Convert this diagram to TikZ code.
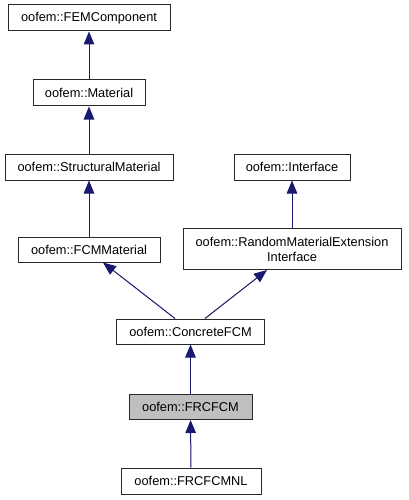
\documentclass[tikz,border=0pt]{standalone}
\usepackage{fontspec}
\setmainfont{Liberation Sans}
\usetikzlibrary{arrows.meta}
\definecolor{edgeblue}{RGB}{25,25,112}
\definecolor{boxgray}{RGB}{191,191,191}
\definecolor{boxline}{RGB}{40,40,40}
\begin{document}
\begin{tikzpicture}[x=1pt,y=-1pt,
  cls/.style={draw=boxline,line width=1pt,fill=white,inner sep=0pt,align=center,
    font=\fontsize{12.8}{15}\selectfont},
  inh/.style={draw=edgeblue,line width=1pt,-{Triangle[length=13pt,width=10.5pt]},fill=edgeblue}]
\useasboundingbox (0,0) rectangle (408,500);
\fill[white] (0,0) rectangle (408,500);
\node[cls,minimum width=162pt,minimum height=26pt] (fem) at (89,18) {oofem::FEMComponent};
\node[cls,minimum width=112pt,minimum height=26pt] (mat) at (89,93) {oofem::Material};
\node[cls,minimum width=168pt,minimum height=26pt] (str) at (89,167) {oofem::StructuralMaterial};
\node[cls,minimum width=116pt,minimum height=26pt] (intf) at (292,167) {oofem::Interface};
\node[cls,minimum width=142pt,minimum height=25pt] (fcm) at (89,249.5) {oofem::FCMMaterial};
\node[cls,minimum width=218pt,minimum height=41pt] (rmei) at (292,249) {oofem::RandomMaterialExtension\\Interface};
\node[cls,minimum width=148pt,minimum height=25pt] (conc) at (190.5,331.5) {oofem::ConcreteFCM};
\node[cls,minimum width=123pt,minimum height=25pt,fill=boxgray] (frc) at (190.5,407) {oofem::FRCFCM};
\node[cls,minimum width=140pt,minimum height=26pt] (frcnl) at (191,481) {oofem::FRCFCMNL};
\draw[inh] (mat) -- (fem);
\draw[inh] (str) -- (mat);
\draw[inh] (fcm) -- (str);
\draw[inh] (rmei) -- (intf);
\draw[inh] ([xshift=-15.5pt]conc.north) -- ([xshift=14pt]fcm.south);
\draw[inh] ([xshift=14.5pt]conc.north) -- ([xshift=-25pt]rmei.south);
\draw[inh] (frc) -- (conc);
\draw[inh] (frcnl) -- (frc);
\end{tikzpicture}
\end{document}
